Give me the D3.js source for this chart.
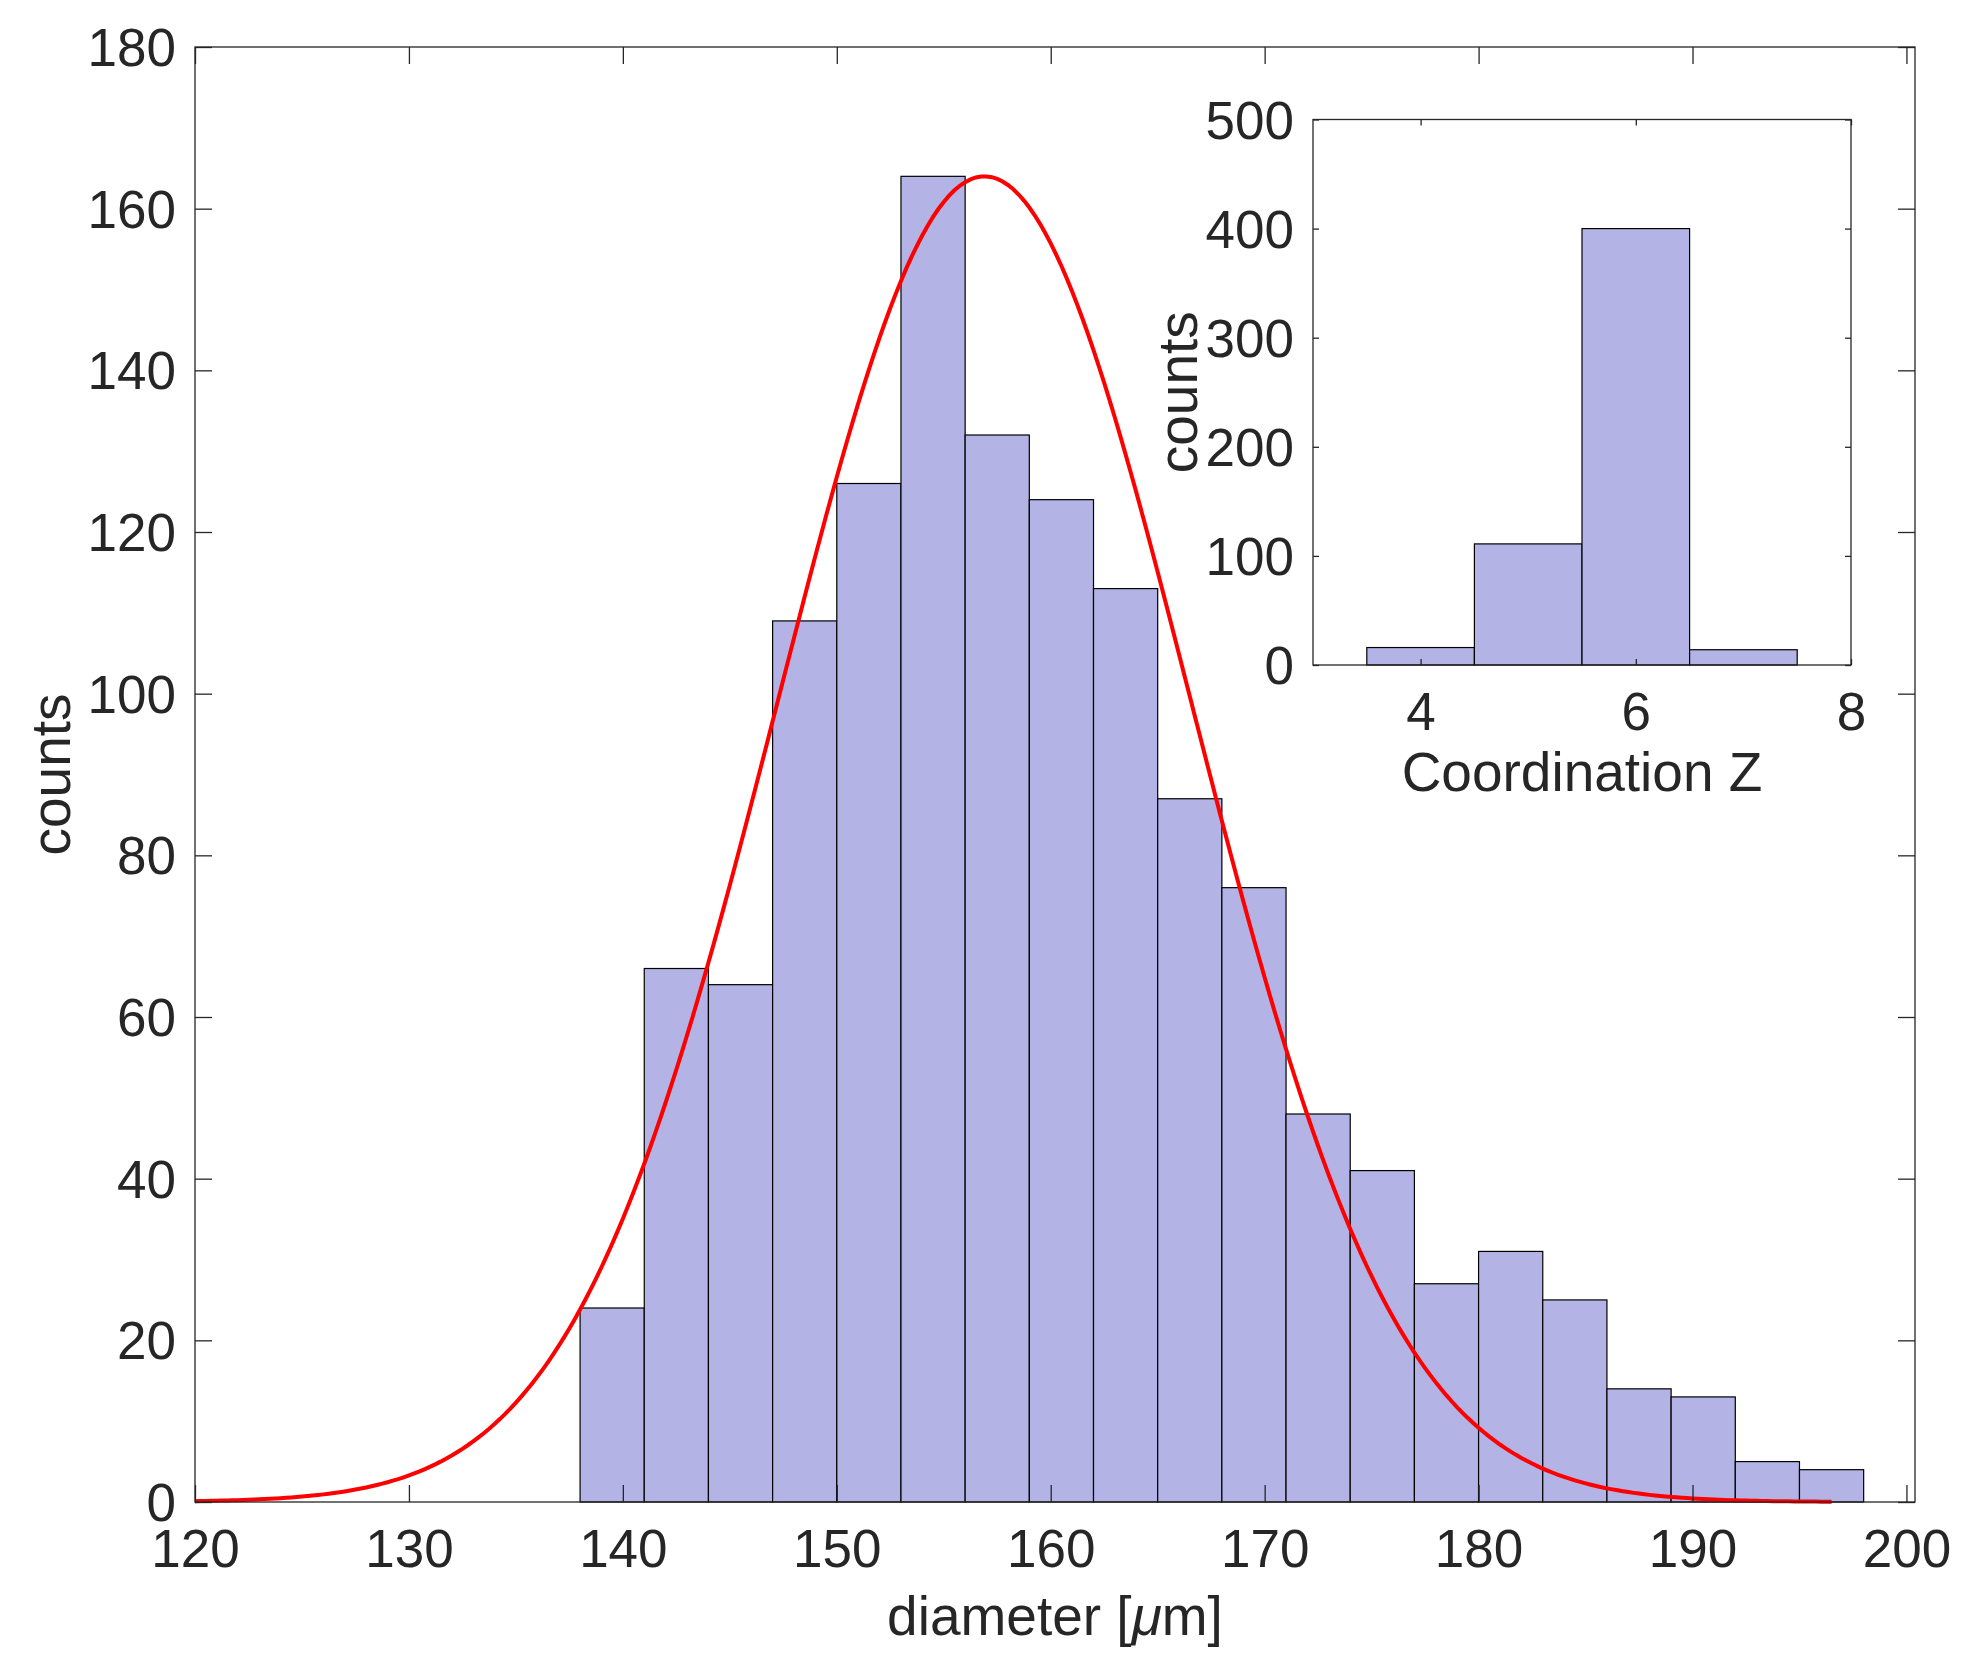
<!DOCTYPE html>
<html>
<head>
<meta charset="utf-8">
<script src="https://cdn.jsdelivr.net/npm/d3@7"></script>
<style>
  body { margin: 0; background: #fff; }
  text { font-family: "Liberation Sans", Arial, Helvetica, sans-serif; fill: #262626; }
</style>
</head>
<body>
<svg id="chart" width="1973" height="1670"></svg>
<script>
// main histogram: diameter bins (left edges, width 3) and counts
const binLeft = [138, 141, 144, 147, 150, 153, 156, 159, 162, 165, 168, 171, 174, 177, 180, 183, 186, 189, 192, 195];
const binWidth = 3;
const binCounts = [24, 66, 64, 109, 126, 164, 132, 124, 113, 87, 76, 48, 41, 27, 31, 25, 14, 13, 5, 4];

// gaussian fit
const fitMean = 156.9;
const fitSigma = 9.62;
const fitPeak = 164;
const fitRange = [120, 196.5];

const xTicks = [120, 130, 140, 150, 160, 170, 180, 190, 200];
const yTicks = [0, 20, 40, 60, 80, 100, 120, 140, 160, 180];

// inset: coordination number histogram
const zLeft = [3.5, 4.5, 5.5, 6.5];
const zWidth = 1;
const zCounts = [16, 111, 400, 14];
const zxTicks = [4, 6, 8];
const zyTicks = [0, 100, 200, 300, 400, 500];

const AXIS = "#262626";
const FILL = "#b3b3e5";
const FONT = 53;
const LABEL_FONT = 55;

const svg = d3.select("#chart");

function styleAxis(g) {
  g.select(".domain").remove();
  g.selectAll("line").attr("stroke", AXIS).attr("stroke-width", 1.3);
  g.selectAll("text").attr("font-size", FONT).attr("fill", AXIS);
}

function drawHist({ box, xDomain, yDomain, left, width, counts, xt, yt, tick, xLabel, yLabel, yLabelX, xLabelY }) {
  const x = d3.scaleLinear().domain(xDomain).range([box.left, box.right]);
  const y = d3.scaleLinear().domain(yDomain).range([box.bottom, box.top]);
  const g = svg.append("g");

  g.append("rect")
    .attr("class", "bg")
    .attr("x", box.left).attr("y", box.top)
    .attr("width", box.right - box.left).attr("height", box.bottom - box.top)
    .attr("fill", "#fff");

  g.selectAll(".bar")
    .data(counts)
    .join("rect")
    .attr("class", "bar")
    .attr("x", (d, i) => x(left[i]))
    .attr("y", (d) => y(d))
    .attr("width", (d, i) => x(left[i] + width) - x(left[i]))
    .attr("height", (d) => y(0) - y(d))
    .attr("fill", FILL)
    .attr("stroke", "#000")
    .attr("stroke-width", 1.2);

  const axes = g.append("g").attr("class", "axes");

  const gx = axes.append("g").attr("transform", `translate(0,${box.bottom})`)
    .call(d3.axisBottom(x).tickValues(xt).tickFormat(d3.format("d")).tickSizeInner(-tick).tickSizeOuter(0).tickPadding(27));
  styleAxis(gx);
  const gxt = axes.append("g").attr("transform", `translate(0,${box.top})`)
    .call(d3.axisTop(x).tickValues(xt).tickFormat("").tickSizeInner(-tick).tickSizeOuter(0));
  styleAxis(gxt);
  const gy = axes.append("g").attr("transform", `translate(${box.left},0)`)
    .call(d3.axisLeft(y).tickValues(yt).tickFormat(d3.format("d")).tickSizeInner(-tick).tickSizeOuter(0).tickPadding(19));
  styleAxis(gy);
  gy.selectAll("text").attr("dy", "0.35em");
  const gyr = axes.append("g").attr("transform", `translate(${box.right},0)`)
    .call(d3.axisRight(y).tickValues(yt).tickFormat("").tickSizeInner(-tick).tickSizeOuter(0));
  styleAxis(gyr);

  axes.append("rect")
    .attr("x", box.left).attr("y", box.top)
    .attr("width", box.right - box.left).attr("height", box.bottom - box.top)
    .attr("fill", "none").attr("stroke", AXIS).attr("stroke-width", 1.3);

  const xl = axes.append("text")
    .attr("x", (box.left + box.right) / 2).attr("y", xLabelY)
    .attr("text-anchor", "middle").attr("font-size", LABEL_FONT);
  xLabel.forEach(([s, italic]) => {
    xl.append("tspan").attr("font-style", italic ? "italic" : null).text(s);
  });
  axes.append("text")
    .attr("transform", `translate(${yLabelX},${(box.top + box.bottom) / 2}) rotate(-90)`)
    .attr("text-anchor", "middle").attr("font-size", LABEL_FONT)
    .text(yLabel);

  return { g, x, y };
}

// main axes
const main = drawHist({
  box: { left: 195, right: 1915, top: 47, bottom: 1502 },
  xDomain: [120, 200.4], yDomain: [0, 180],
  left: binLeft, width: binWidth, counts: binCounts,
  xt: xTicks, yt: yTicks, tick: 17,
  xLabel: [["diameter ["], ["μ", true], ["m]"]], yLabel: "counts",
  yLabelX: 70, xLabelY: 1635,
});

// fitted normal curve, above the bars and below the axes
const curveX = d3.range(fitRange[0], fitRange[1] + 0.01, 0.25);
const curve = d3.line()
  .x((d) => main.x(d))
  .y((d) => main.y(fitPeak * Math.exp(-((d - fitMean) ** 2) / (2 * fitSigma ** 2))));
main.g.insert("path", ".axes")
  .datum(curveX)
  .attr("d", curve)
  .attr("fill", "none")
  .attr("stroke", "#ff0000")
  .attr("stroke-width", 4);

// inset axes
drawHist({
  box: { left: 1313, right: 1851, top: 119.5, bottom: 665 },
  xDomain: [3, 8], yDomain: [0, 500],
  left: zLeft, width: zWidth, counts: zCounts,
  xt: zxTicks, yt: zyTicks, tick: 6,
  xLabel: [["Coordination Z"]], yLabel: "counts",
  yLabelX: 1197, xLabelY: 791,
});
</script>
</body>
</html>
